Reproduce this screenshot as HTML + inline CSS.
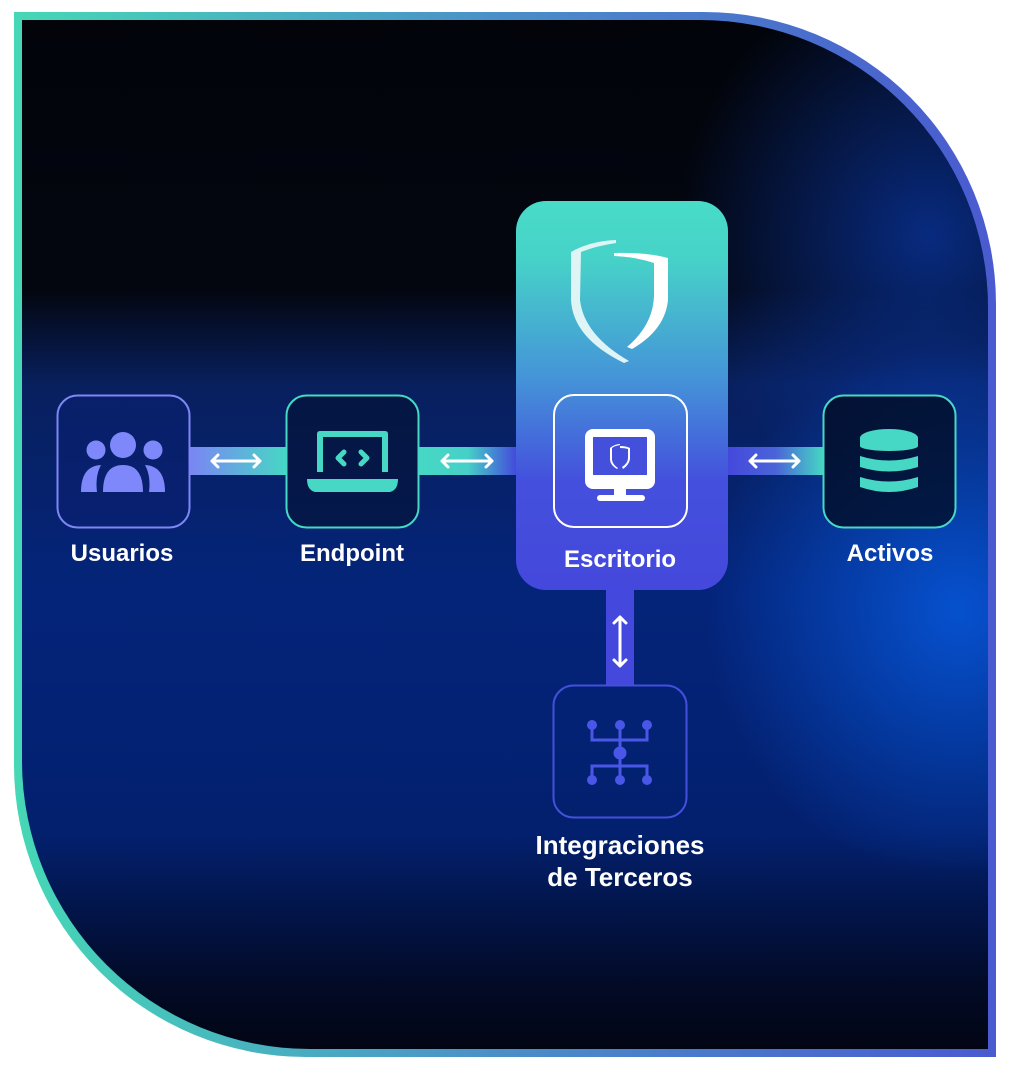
<!DOCTYPE html>
<html><head><meta charset="utf-8"><style>
html,body{margin:0;padding:0;background:#fff;}
svg{display:block}
text{font-family:"Liberation Sans",sans-serif;font-weight:bold;fill:#fff;text-anchor:middle;}
</style></head><body>
<svg width="1009" height="1070" viewBox="0 0 1009 1070" xmlns="http://www.w3.org/2000/svg">
<defs>
<linearGradient id="frame" x1="0" y1="0" x2="1" y2="0">
<stop offset="0" stop-color="#46d8b6"/><stop offset="0.5" stop-color="#4a8ec8"/><stop offset="1" stop-color="#4a5ad0"/>
</linearGradient>
<linearGradient id="bgv" x1="0" y1="0" x2="0" y2="1">
<stop offset="0" stop-color="#02040a"/><stop offset="0.27" stop-color="#03060f"/><stop offset="0.36" stop-color="#08205e"/><stop offset="0.55" stop-color="#04247a"/><stop offset="0.78" stop-color="#03206e"/><stop offset="0.92" stop-color="#020a26"/><stop offset="1" stop-color="#02040e"/>
</linearGradient>
<radialGradient id="glowR" cx="0.95" cy="0.57" r="0.25">
<stop offset="0" stop-color="#0656d8" stop-opacity="0.9"/><stop offset="1" stop-color="#0656d8" stop-opacity="0"/>
</radialGradient>
<radialGradient id="glowTR" cx="0.92" cy="0.22" r="0.25">
<stop offset="0" stop-color="#0a3ab0" stop-opacity="0.7"/><stop offset="1" stop-color="#0a3ab0" stop-opacity="0"/>
</radialGradient>
<linearGradient id="panel" x1="0" y1="0" x2="0" y2="1">
<stop offset="0" stop-color="#48dcc8"/><stop offset="0.15" stop-color="#46d2c8"/><stop offset="0.45" stop-color="#4595d8"/><stop offset="0.72" stop-color="#4450dd"/><stop offset="1" stop-color="#4448dc"/>
</linearGradient>
<linearGradient id="c1" x1="0" y1="0" x2="1" y2="0"><stop offset="0" stop-color="#7b84f5"/><stop offset="1" stop-color="#46d8c4"/></linearGradient>
<linearGradient id="c2" x1="0" y1="0" x2="1" y2="0"><stop offset="0" stop-color="#46d8c4"/><stop offset="0.5" stop-color="#46d0c8"/><stop offset="1" stop-color="#4448dc"/></linearGradient>
<linearGradient id="c3" x1="0" y1="0" x2="1" y2="0"><stop offset="0" stop-color="#4448dc"/><stop offset="0.5" stop-color="#4a64d8"/><stop offset="1" stop-color="#46d8c4"/></linearGradient>
<clipPath id="cl"><path d="M22 20 H700 A288 288 0 0 1 988 308 V1049 H310 A288 288 0 0 1 22 761 Z"/></clipPath>
</defs>
<path d="M14 12 H704 A292 292 0 0 1 996 304 V1057 H306 A292 292 0 0 1 14 765 Z" fill="url(#frame)"/>
<g clip-path="url(#cl)">
<rect x="0" y="0" width="1009" height="1070" fill="url(#bgv)"/>
<rect x="0" y="0" width="1009" height="1070" fill="url(#glowR)"/>
<rect x="0" y="0" width="1009" height="1070" fill="url(#glowTR)"/>
</g>
<!-- connectors -->
<rect x="189" y="447" width="98" height="28" fill="url(#c1)"/>
<rect x="418" y="447" width="99" height="28" fill="url(#c2)"/>
<rect x="727" y="447" width="97" height="28" fill="url(#c3)"/>
<rect x="606" y="588" width="28" height="98" fill="#4448dc"/>
<g stroke="#fff" stroke-width="3" fill="none" stroke-linecap="round" stroke-linejoin="round">
<path d="M212 461 H260 M218 455 L212 461 L218 467 M254 455 L260 461 L254 467"/>
<path d="M442 461 H492 M448 455 L442 461 L448 467 M486 455 L492 461 L486 467"/>
<path d="M750 461 H799 M756 455 L750 461 L756 467 M793 455 L799 461 L793 467"/>
<path d="M620 617 V666 M614 623 L620 617 L626 623 M614 660 L620 666 L626 660"/>
</g>
<!-- central panel -->
<rect x="516" y="201" width="212" height="389" rx="30" fill="url(#panel)"/>
<path d="M571 252 Q590 241 616 240 L616 243 Q596 246 581 252 L580 300 Q584 335 629 361 L624 363 Q573 338 571 300 Z" fill="#dff4f4"/>
<path d="M614 253 Q646 252 668 258 L668 300 Q665 330 632 349 L627 347 Q653 325 654 296 L654 263 Q636 257 614 256 Z" fill="#fff"/>
<rect x="554" y="395" width="133" height="132" rx="20" fill="none" stroke="#fff" stroke-width="2"/>
<rect x="585" y="429" width="70" height="60" rx="8" fill="#fff"/>
<rect x="593" y="437" width="54" height="38" fill="#4450dc"/>
<path d="M610 448 Q615 444 620 444 L620 445 Q614 446 612 448 L612 460 Q613 465 618 468 L617 469 Q610 465 610 459 Z M620 446 Q626 446 630 448 L630 459 Q629 465 623 469 L622 467 Q628 463 628 458 L628 449 Q625 448 620 448Z" fill="#fff"/>
<rect x="614" y="489" width="12" height="8" fill="#fff"/>
<rect x="597" y="495" width="48" height="6" rx="3" fill="#fff"/>
<text x="620" y="567" font-size="24">Escritorio</text>
<!-- Usuarios -->
<rect x="57.5" y="395.5" width="132" height="132" rx="20" fill="#0a1f70" fill-opacity="0.6" stroke="#7e86f5" stroke-width="2"/>
<g fill="#7f88fb">
<circle cx="123" cy="445" r="13"/><circle cx="96" cy="450" r="9.5"/><circle cx="153" cy="450" r="9.5"/>
<path d="M103 492 Q103 465 123 465 Q143 465 143 492 Z"/>
<path d="M81 492 Q81 466 101 465 Q95 476 97 492 Z"/>
<path d="M165 492 Q165 466 145 465 Q151 476 149 492 Z"/>
</g>
<text x="122" y="561" font-size="24">Usuarios</text>
<!-- Endpoint -->
<rect x="286.5" y="395.5" width="132" height="132" rx="20" fill="#041030" fill-opacity="0.6" stroke="#46d8c4" stroke-width="2"/>
<path d="M317 472 V434 Q317 431 320 431 H385 Q388 431 388 434 V472 H382 V437 H323 V472 Z" fill="#46d8c4"/>
<path d="M307 479 H398 Q398 490 390 492 H315 Q307 490 307 479 Z" fill="#46d8c4"/>
<g stroke="#46d8c4" stroke-width="5" stroke-linecap="round" stroke-linejoin="round" fill="none">
<path d="M344 452 L338 458 L344 464 M361 452 L367 458 L361 464"/>
</g>
<text x="352" y="561" font-size="24">Endpoint</text>
<!-- Activos -->
<rect x="823.5" y="395.5" width="132" height="132" rx="20" fill="#020818" fill-opacity="0.7" stroke="#46d8c4" stroke-width="2"/>
<g fill="#46d8c4">
<ellipse cx="889" cy="438" rx="29" ry="9"/><rect x="860" y="438" width="58" height="8"/><ellipse cx="889" cy="446" rx="29" ry="5"/>
<path d="M860 456 Q889 465 918 456 V467 Q889 476 860 467 Z"/>
<path d="M860 477 Q889 486 918 477 V487 Q889 497 860 487 Z"/>
</g>
<text x="890" y="561" font-size="24">Activos</text>
<!-- Integraciones -->
<rect x="553.5" y="685.5" width="133" height="132" rx="20" fill="none" stroke="#4450dc" stroke-width="2"/>
<g stroke="#4a56e8" stroke-width="3" fill="none">
<path d="M592 725 V740 H647 V725 M620 725 V780 M592 780 V766 H647 V780"/>
</g>
<g fill="#4a56e8">
<circle cx="592" cy="725" r="5"/><circle cx="620" cy="725" r="5"/><circle cx="647" cy="725" r="5"/>
<circle cx="620" cy="753" r="6.5"/>
<circle cx="592" cy="780" r="5"/><circle cx="620" cy="780" r="5"/><circle cx="647" cy="780" r="5"/>
</g>
<text x="620" y="854" font-size="26">Integraciones</text>
<text x="620" y="886" font-size="26">de Terceros</text>
</svg>
</body></html>
